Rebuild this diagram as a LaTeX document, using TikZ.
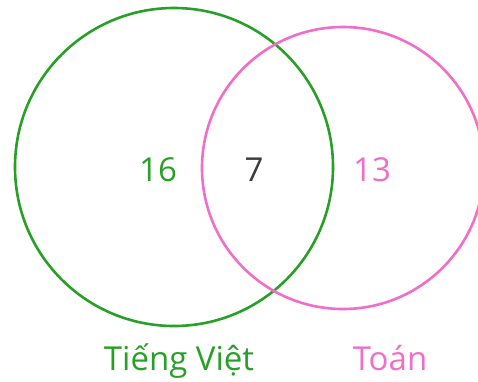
\documentclass[tikz,border=0pt]{standalone}
\usepackage{fontspec}
\setmainfont{Open Sans}
\definecolor{vietgreen}{RGB}{40,160,40}
\definecolor{toanpink}{RGB}{240,110,200}
\definecolor{bothgray}{RGB}{60,60,60}
\begin{document}
\begin{tikzpicture}[x=1pt,y=-1pt,
    setcircle/.style={circle, draw, line width=2.6pt, inner sep=0pt},
    countlabel/.style={font=\fontsize{33}{36}\selectfont},
    setname/.style={font=\fontsize{33}{36}\selectfont, anchor=base}]
  \useasboundingbox (0,0) rectangle (478,381);
  \clip (0,0) rectangle (478,381);
  \node[setcircle, draw=vietgreen, minimum size=318pt] (viet) at (174,167) {};
  \node[setcircle, draw=toanpink, minimum size=282pt] (toan) at (343,168) {};

  \node[countlabel, text=vietgreen] (onlyviet) at (158,170) {16};
  \node[countlabel, text=bothgray] (both) at (254,170) {7};
  \node[countlabel, text=toanpink] (onlytoan) at (372,170) {13};

  \node[setname, text=vietgreen] (vietname) at (179,370) {Tiếng Việt};
  \node[setname, text=toanpink] (toanname) at (390,370) {Toán};
\end{tikzpicture}
\end{document}
